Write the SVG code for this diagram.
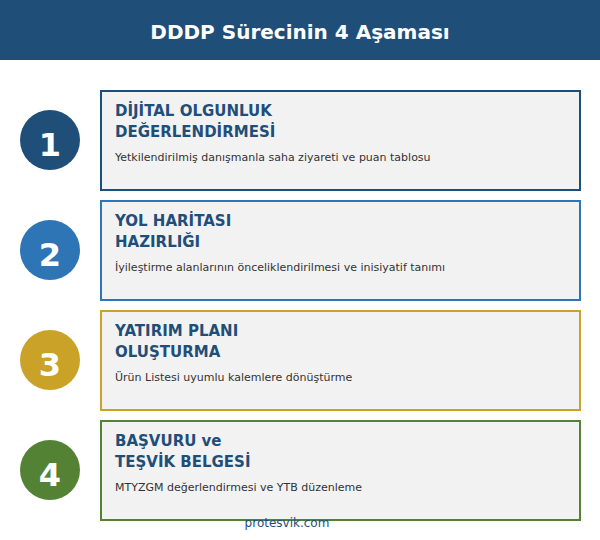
<svg xmlns="http://www.w3.org/2000/svg" width="600" height="540" viewBox="0 0 600 540">
<style>
.hdr{font-family:"DejaVu Sans",sans-serif;font-weight:bold;font-size:20px;fill:#fff}
.num{font-family:"DejaVu Sans",sans-serif;font-weight:bold;font-size:32px;fill:#fff}
.ttl{font-family:"DejaVu Sans",sans-serif;font-weight:bold;font-size:15px;fill:#1f4e79}
.dsc{font-family:"DejaVu Sans",sans-serif;font-size:11px;fill:#333}
.box{fill:#f2f2f2;stroke-width:2}
.foot{font-family:"DejaVu Sans",sans-serif;font-size:12px;fill:#1f4e79}
</style>
<rect width="600" height="540" fill="#fff"/>
<g id="header">
<rect x="0" y="0" width="600" height="60" fill="#1f4e79"/>
<text class="hdr" x="300" y="39" text-anchor="middle">DDDP Sürecinin 4 Aşaması</text>
</g>
<g id="connectors"></g>
<g id="step1">
<circle cx="50" cy="140" r="30" fill="#1f4e79"/>
<text class="num" x="50" y="156" text-anchor="middle">1</text>
<rect class="box" x="101" y="91" width="479" height="99" stroke="#1f4e79"/>
<text class="ttl" x="115" y="116">DİJİTAL OLGUNLUK</text>
<text class="ttl" x="115" y="137">DEĞERLENDİRMESİ</text>
<text class="dsc" x="115" y="161">Yetkilendirilmiş danışmanla saha ziyareti ve puan tablosu</text>
</g>
<g id="step2">
<circle cx="50" cy="250" r="30" fill="#2e75b6"/>
<text class="num" x="50" y="266" text-anchor="middle">2</text>
<rect class="box" x="101" y="201" width="479" height="99" stroke="#2e75b6"/>
<text class="ttl" x="115" y="226">YOL HARİTASI</text>
<text class="ttl" x="115" y="247">HAZIRLIĞI</text>
<text class="dsc" x="115" y="271">İyileştirme alanlarının önceliklendirilmesi ve inisiyatif tanımı</text>
</g>
<g id="step3">
<circle cx="50" cy="360" r="30" fill="#c9a227"/>
<text class="num" x="50" y="376" text-anchor="middle">3</text>
<rect class="box" x="101" y="311" width="479" height="99" stroke="#c9a227"/>
<text class="ttl" x="115" y="336">YATIRIM PLANI</text>
<text class="ttl" x="115" y="357">OLUŞTURMA</text>
<text class="dsc" x="115" y="381">Ürün Listesi uyumlu kalemlere dönüştürme</text>
</g>
<g id="step4">
<circle cx="50" cy="470" r="30" fill="#548235"/>
<text class="num" x="50" y="486" text-anchor="middle">4</text>
<rect class="box" x="101" y="421" width="479" height="99" stroke="#548235"/>
<text class="ttl" x="115" y="446">BAŞVURU ve</text>
<text class="ttl" x="115" y="467">TEŞVİK BELGESİ</text>
<text class="dsc" x="115" y="491">MTYZGM değerlendirmesi ve YTB düzenleme</text>
</g>
<g id="footer">
<text class="foot" x="287" y="527" text-anchor="middle">protesvik.com</text>
</g>
</svg>
